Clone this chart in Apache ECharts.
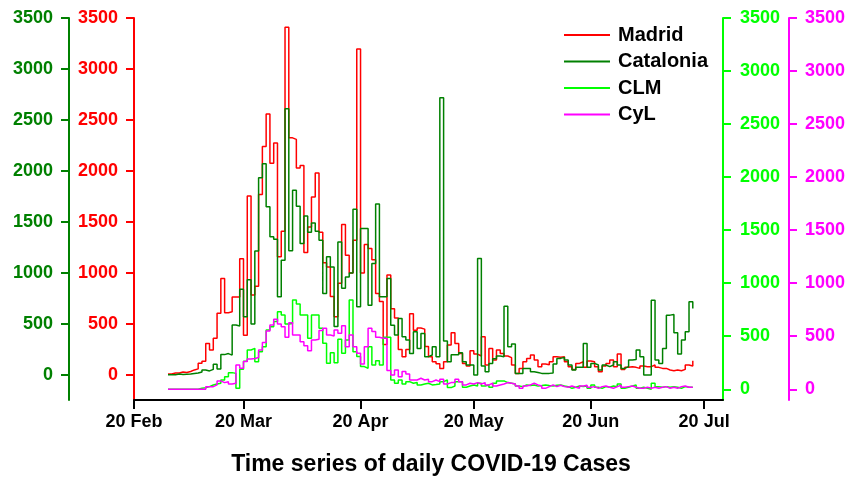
<!DOCTYPE html>
<html><head><meta charset="utf-8">
<script src="https://cdn.jsdelivr.net/npm/echarts@6/dist/echarts.min.js"></script>
<style>html,body{margin:0;padding:0;background:#fff}#c{width:862px;height:478px}</style>
</head><body><div id="c"></div>
<script>
// day index 0 = 20 Feb 2020; first record is 29 Feb 2020
const firstDay = 9;

const madrid = [
  10, 20, 20, 30, 25, 35, 50, 60, 115, 135,
  310, 245, 360, 605, 945, 610, 620, 765, 765, 1140,
  390, 1755, 785, 870, 1770, 2240, 2560, 2075, 2275, 1160,
  1410, 3410, 2325, 2310, 2030, 2055, 1200, 1450, 1745, 1980,
  1400, 1100, 1060, 770, 570, 900, 1475, 1175, 1000, 1320,
  3195, 1000, 1280, 1240, 1130, 800, 720, 300, 980, 650,
  560, 250, 180, 250, 600, 440, 460, 450, 280, 180,
  130, 110, 65, 130, 294, 414, 310, 212, 114, 88,
  238, 205, 186, 375, 98, 261, 147, 245, 212, 186,
  170, 98, 16, 65, 130, 163, 196, 147, 82, 108,
  100, 130, 179, 175, 180, 130, 82, 55, 114, 130,
  75, 137, 130, 82, 33, 88, 114, 147, 82, 206,
  55, 75, 82, 75, 65, 88, 82, 82, 98, 75,
  65, 65, 49, 42, 49, 42, 55, 98, 88, 140
];
const catalonia = [
  3, 3, 10, 5, 8, 10, 15, 20, 30, 50,
  40, 55, 105, 60, 200, 210, 195, 490, 480, 840,
  570, 935, 500, 1215, 1935, 2070, 1650, 1355, 1330, 767,
  1126, 2611, 1217, 1811, 1654, 1290, 1560, 1400, 1490, 1410,
  1320, 800, 1160, 1060, 475, 1305, 850, 960, 1000, 1625,
  670, 1436, 1436, 685, 1093, 1677, 767, 767, 946, 489,
  392, 555, 375, 343, 212, 424, 261, 408, 180, 196,
  277, 180, 2719, 333, 130, 199, 199, 219, 130, 98,
  98, 0, 1142, 88, 33, 114, 160, 186, 179, 675,
  277, 303, 16, 16, 65, 65, 33, 25, 16, 16,
  16, 20, 108, 163, 173, 147, 98, 49, 75, 75,
  310, 75, 114, 98, 49, 98, 82, 98, 130, 98,
  65, 82, 147, 153, 245, 180, 0, 0, 734, 147,
  114, 261, 587, 593, 414, 205, 342, 424, 718, 653
];
const clm = [
  0, 0, 0, 0, 0, 0, 0, 0, 10, 15,
  25, 40, 50, 57, 88, 119, 157, 150, 9, 190,
  265, 370, 386, 260, 355, 400, 560, 590, 638, 732,
  700, 616, 620, 842, 804, 700, 700, 481, 700, 700,
  575, 433, 245, 345, 251, 471, 339, 465, 842, 355,
  308, 214, 198, 402, 229, 270, 229, 490, 490, 88,
  57, 88, 50, 72, 57, 63, 41, 50, 57, 41,
  45, 50, 72, 88, 16, 31, 72, 72, 19, 31,
  41, 31, 57, 31, 41, 19, 57, 79, 79, 63,
  57, 50, 31, 25, 41, 35, 41, 30, 35, 41,
  35, 30, 38, 41, 31, 25, 9, 19, 31, 25,
  31, 9, 41, 19, 9, 25, 19, 31, 25, 50,
  9, 19, 31, 41, 9, 19, 9, 0, 57, 25,
  19, 25, 19, 25, 19, 9, 25, 19, 19, 19
];
const cyl = [
  0, 0, 0, 0, 0, 0, 0, 0, 0, 0,
  25, 25, 41, 79, 63, 72, 50, 57, 229, 198,
  261, 285, 290, 300, 370, 440, 550, 606, 660, 616,
  590, 490, 628, 512, 512, 449, 411, 364, 465, 471,
  553, 575, 512, 503, 559, 528, 600, 402, 512, 402,
  339, 239, 402, 575, 544, 490, 481, 481, 176, 135,
  182, 119, 167, 145, 88, 88, 104, 88, 94, 72,
  88, 72, 94, 50, 63, 63, 94, 72, 41, 57,
  50, 63, 50, 63, 41, 57, 31, 41, 50, 63,
  57, 50, 31, 9, 31, 41, 57, 41, 31, 9,
  25, 41, 25, 38, 25, 19, 31, 19, 9, 31,
  38, 19, 25, 9, 25, 31, 19, 9, 25, 38,
  19, 25, 31, 19, 9, 9, 19, 9, 19, 9,
  19, 25, 9, 19, 9, 25, 31, 19, 19, 19
];

const xTickDays = [0, 29, 60, 90, 121, 151];
const xTickLabels = ['20 Feb', '20 Mar', '20 Apr', '20 May', '20 Jun', '20 Jul'];
const yTicks = [0, 500, 1000, 1500, 2000, 2500, 3000, 3500];

const FONT = '"Liberation Sans", Arial, Helvetica, sans-serif';

function pairs(arr) { return arr.map((v, i) => [firstDay + i, v]); }

function yAx(pos, offset, color, min, margin) {
  return {
    type: 'value', position: pos, offset: offset, min: min, max: 3500,
    axisLine: { show: true, onZero: false, lineStyle: { color: color, width: 2 } },
    axisTick: { show: true, length: 8, customValues: yTicks, lineStyle: { color: color, width: 2 } },
    axisLabel: {
      customValues: yTicks, color: color, fontSize: 18, fontWeight: 'bold', margin: margin, fontFamily: FONT,
      formatter: function (v) { return String(v); }
    },
    splitLine: { show: false }
  };
}

function line(name, data, axis, color) {
  return {
    name: name, type: 'line', step: 'end', yAxisIndex: axis, data: pairs(data),
    symbol: 'none', showSymbol: false,
    lineStyle: { color: color, width: 1.5 }, itemStyle: { color: color },
    emphasis: { disabled: true }
  };
}

const chart = echarts.init(document.getElementById('c'));
chart.setOption({
  animation: false,
  backgroundColor: '#fff',
  title: {
    text: 'Time series of daily COVID-19 Cases', left: 'center', top: 448,
    textStyle: { fontSize: 23, fontWeight: 'bold', color: '#000', fontFamily: FONT }
  },
  legend: {
    orient: 'vertical', left: 564, top: 25, padding: 0, icon: 'rect', itemWidth: 46, itemHeight: 2, itemGap: 6.5,
    textStyle: { fontSize: 20, fontWeight: 'bold', color: '#000', lineHeight: 20, fontFamily: FONT, padding: [0, 0, 0, 3] },
    data: ['Madrid', 'Catalonia', 'CLM', 'CyL']
  },
  grid: { left: 134, right: 139, top: 18, bottom: 78, containLabel: false },
  xAxis: {
    type: 'value', min: 0, max: 156,
    axisLine: { show: true, onZero: false, lineStyle: { color: '#000', width: 2 } },
    axisTick: { show: true, length: 9, customValues: xTickDays, lineStyle: { color: '#000', width: 2 } },
    axisLabel: {
      customValues: xTickDays, color: '#000', fontSize: 18, fontWeight: 'bold', margin: 13, fontFamily: FONT,
      formatter: function (v) { const i = xTickDays.indexOf(v); return i >= 0 ? xTickLabels[i] : ''; }
    },
    splitLine: { show: false }
  },
  yAxis: [
    yAx('left', 65, '#008000', -245, 16),
    yAx('left', 0, '#ff0000', -245, 16),
    yAx('right', 0, '#00ff00', -101, 17),
    yAx('right', 66, '#ff00ff', -101, 16)
  ],
  series: [
    line('Madrid', madrid, 1, '#ff0000'),
    line('Catalonia', catalonia, 0, '#008000'),
    line('CLM', clm, 2, '#00ff00'),
    line('CyL', cyl, 3, '#ff00ff')
  ]
});
</script>
</body></html>
